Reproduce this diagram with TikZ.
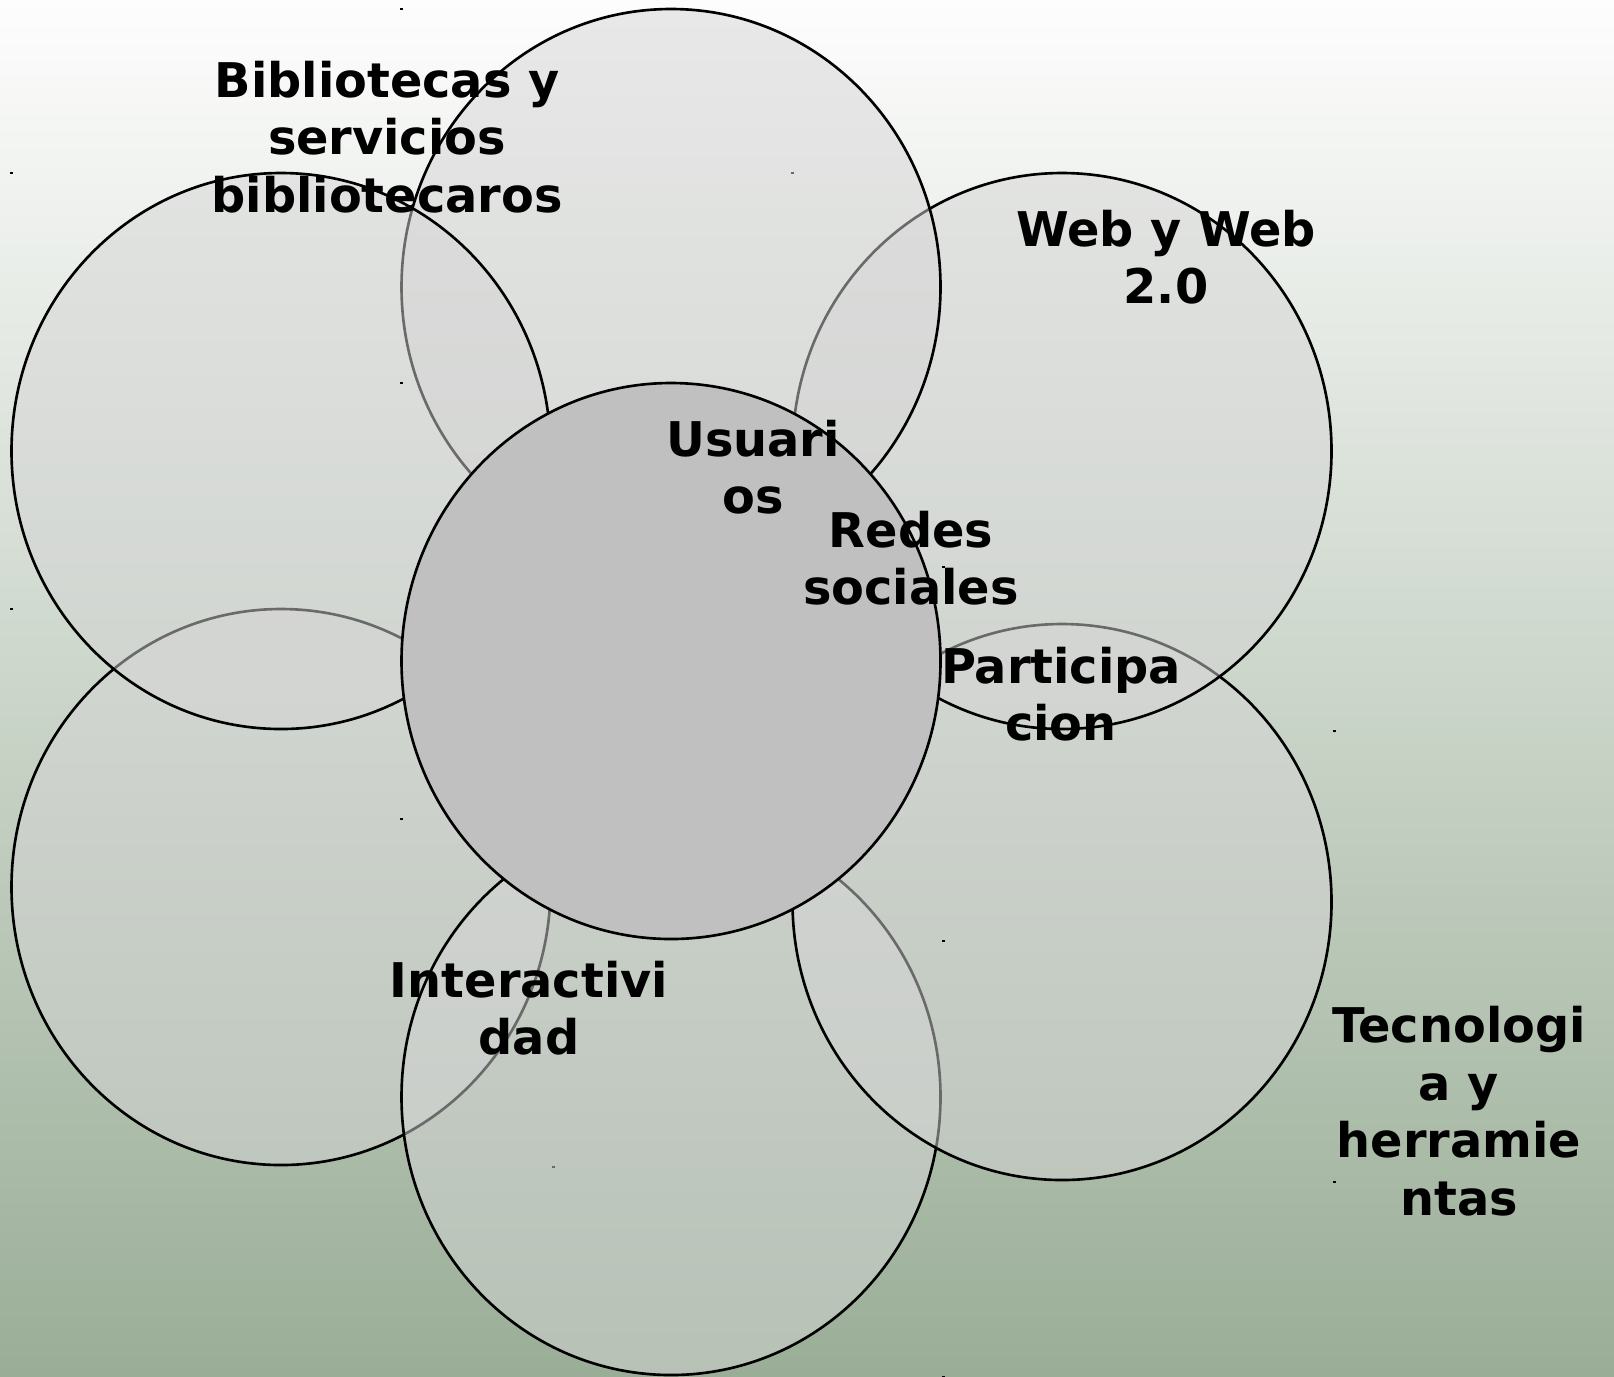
\documentclass[tikz,border=0pt]{standalone}
\usepackage{fontspec}
\setmainfont{DejaVu Sans}
\usetikzlibrary{shapes.geometric}
\definecolor{bgtop}{RGB}{253,253,253}
\definecolor{bgbot}{RGB}{154,174,151}
\definecolor{petalgray}{RGB}{213,213,213}
\definecolor{coregray}{RGB}{192,192,192}

\begin{document}
\begin{tikzpicture}[%
		petal/.style={ellipse, draw=black, draw opacity=1, line width=0.75pt,
			fill=petalgray, fill opacity=0.5, inner sep=0pt,
			minimum width=5.39cm, minimum height=5.56cm},
		core/.style={petal, fill=coregray, fill opacity=1},
		lbl/.style={align=center, font=\bfseries\fontsize{13.6}{16.4}\selectfont}
		]
		% (16.14cm,13.76cm)
		\useasboundingbox (0,0) rectangle (16.14,-13.76);
		\fill[top color=bgtop, bottom color=bgbot] (0,0) rectangle (16.14,-13.76);
		
		%%%%%%%%%%%%%%%
		%   PETALS    %
		%%%%%%%%%%%%%%%
		% lower left
		\node[petal] (ll) at (2.81, -8.87) {};
		\fill (ll.west |- ll.north) rectangle ++(0.03,-0.02);
		\fill (ll.east |- ll.south) rectangle ++(0.03,-0.02);
		
		% bottom
		\node[petal] (bot) at (6.71, -10.97) {};
		\fill (bot.west |- bot.north) rectangle ++(0.03,-0.02);
		\fill (bot.east |- bot.south) rectangle ++(0.03,-0.02);
		
		% lower right
		\node[petal] (lr) at (10.62, -9.02) {};
		\fill (lr.west |- lr.north) rectangle ++(0.03,-0.02);
		\fill (lr.east |- lr.south) rectangle ++(0.03,-0.02);
		
		% upper right
		\node[petal] (ur) at (10.62, -4.51) {};
		\fill (ur.west |- ur.north) rectangle ++(0.03,-0.02);
		\fill (ur.east |- ur.south) rectangle ++(0.03,-0.02);
		
		% top
		\node[petal] (top) at (6.71, -2.87) {};
		\fill (top.west |- top.north) rectangle ++(0.03,-0.02);
		\fill (top.east |- top.south) rectangle ++(0.03,-0.02);
		
		% upper left
		\node[petal] (ul) at (2.81, -4.51) {};
		\fill (ul.west |- ul.north) rectangle ++(0.03,-0.02);
		\fill (ul.east |- ul.south) rectangle ++(0.03,-0.02);
		
		% centre
		\node[core] (ctr) at (6.71, -6.61) {};
		\fill (ctr.west |- ctr.north) rectangle ++(0.03,-0.02);
		\fill (ctr.east |- ctr.south) rectangle ++(0.03,-0.02);
		
		%%%%%%%%%%%%%%%
		%   LABELS    %
		%%%%%%%%%%%%%%%
		\node[lbl] (bib) at (3.87, -1.37) {Bibliotecas y\\servicios\\bibliotecaros};
		\node[lbl] (web) at (11.66, -2.57) {Web y Web\\2.0};
		\node[lbl] (usu) at (7.53, -4.67) {Usuari\\os};
		\node[lbl] (red) at (9.11, -5.58) {Redes\\sociales};
		\node[lbl] (par) at (10.61, -6.94) {Participa\\cion};
		\node[lbl] (int) at (5.29, -10.08) {Interactivi\\dad};
		\node[lbl] (tec) at (14.59, -11.11) {Tecnologi\\a y\\herramie\\ntas};
		
	\end{tikzpicture}
\end{document}
